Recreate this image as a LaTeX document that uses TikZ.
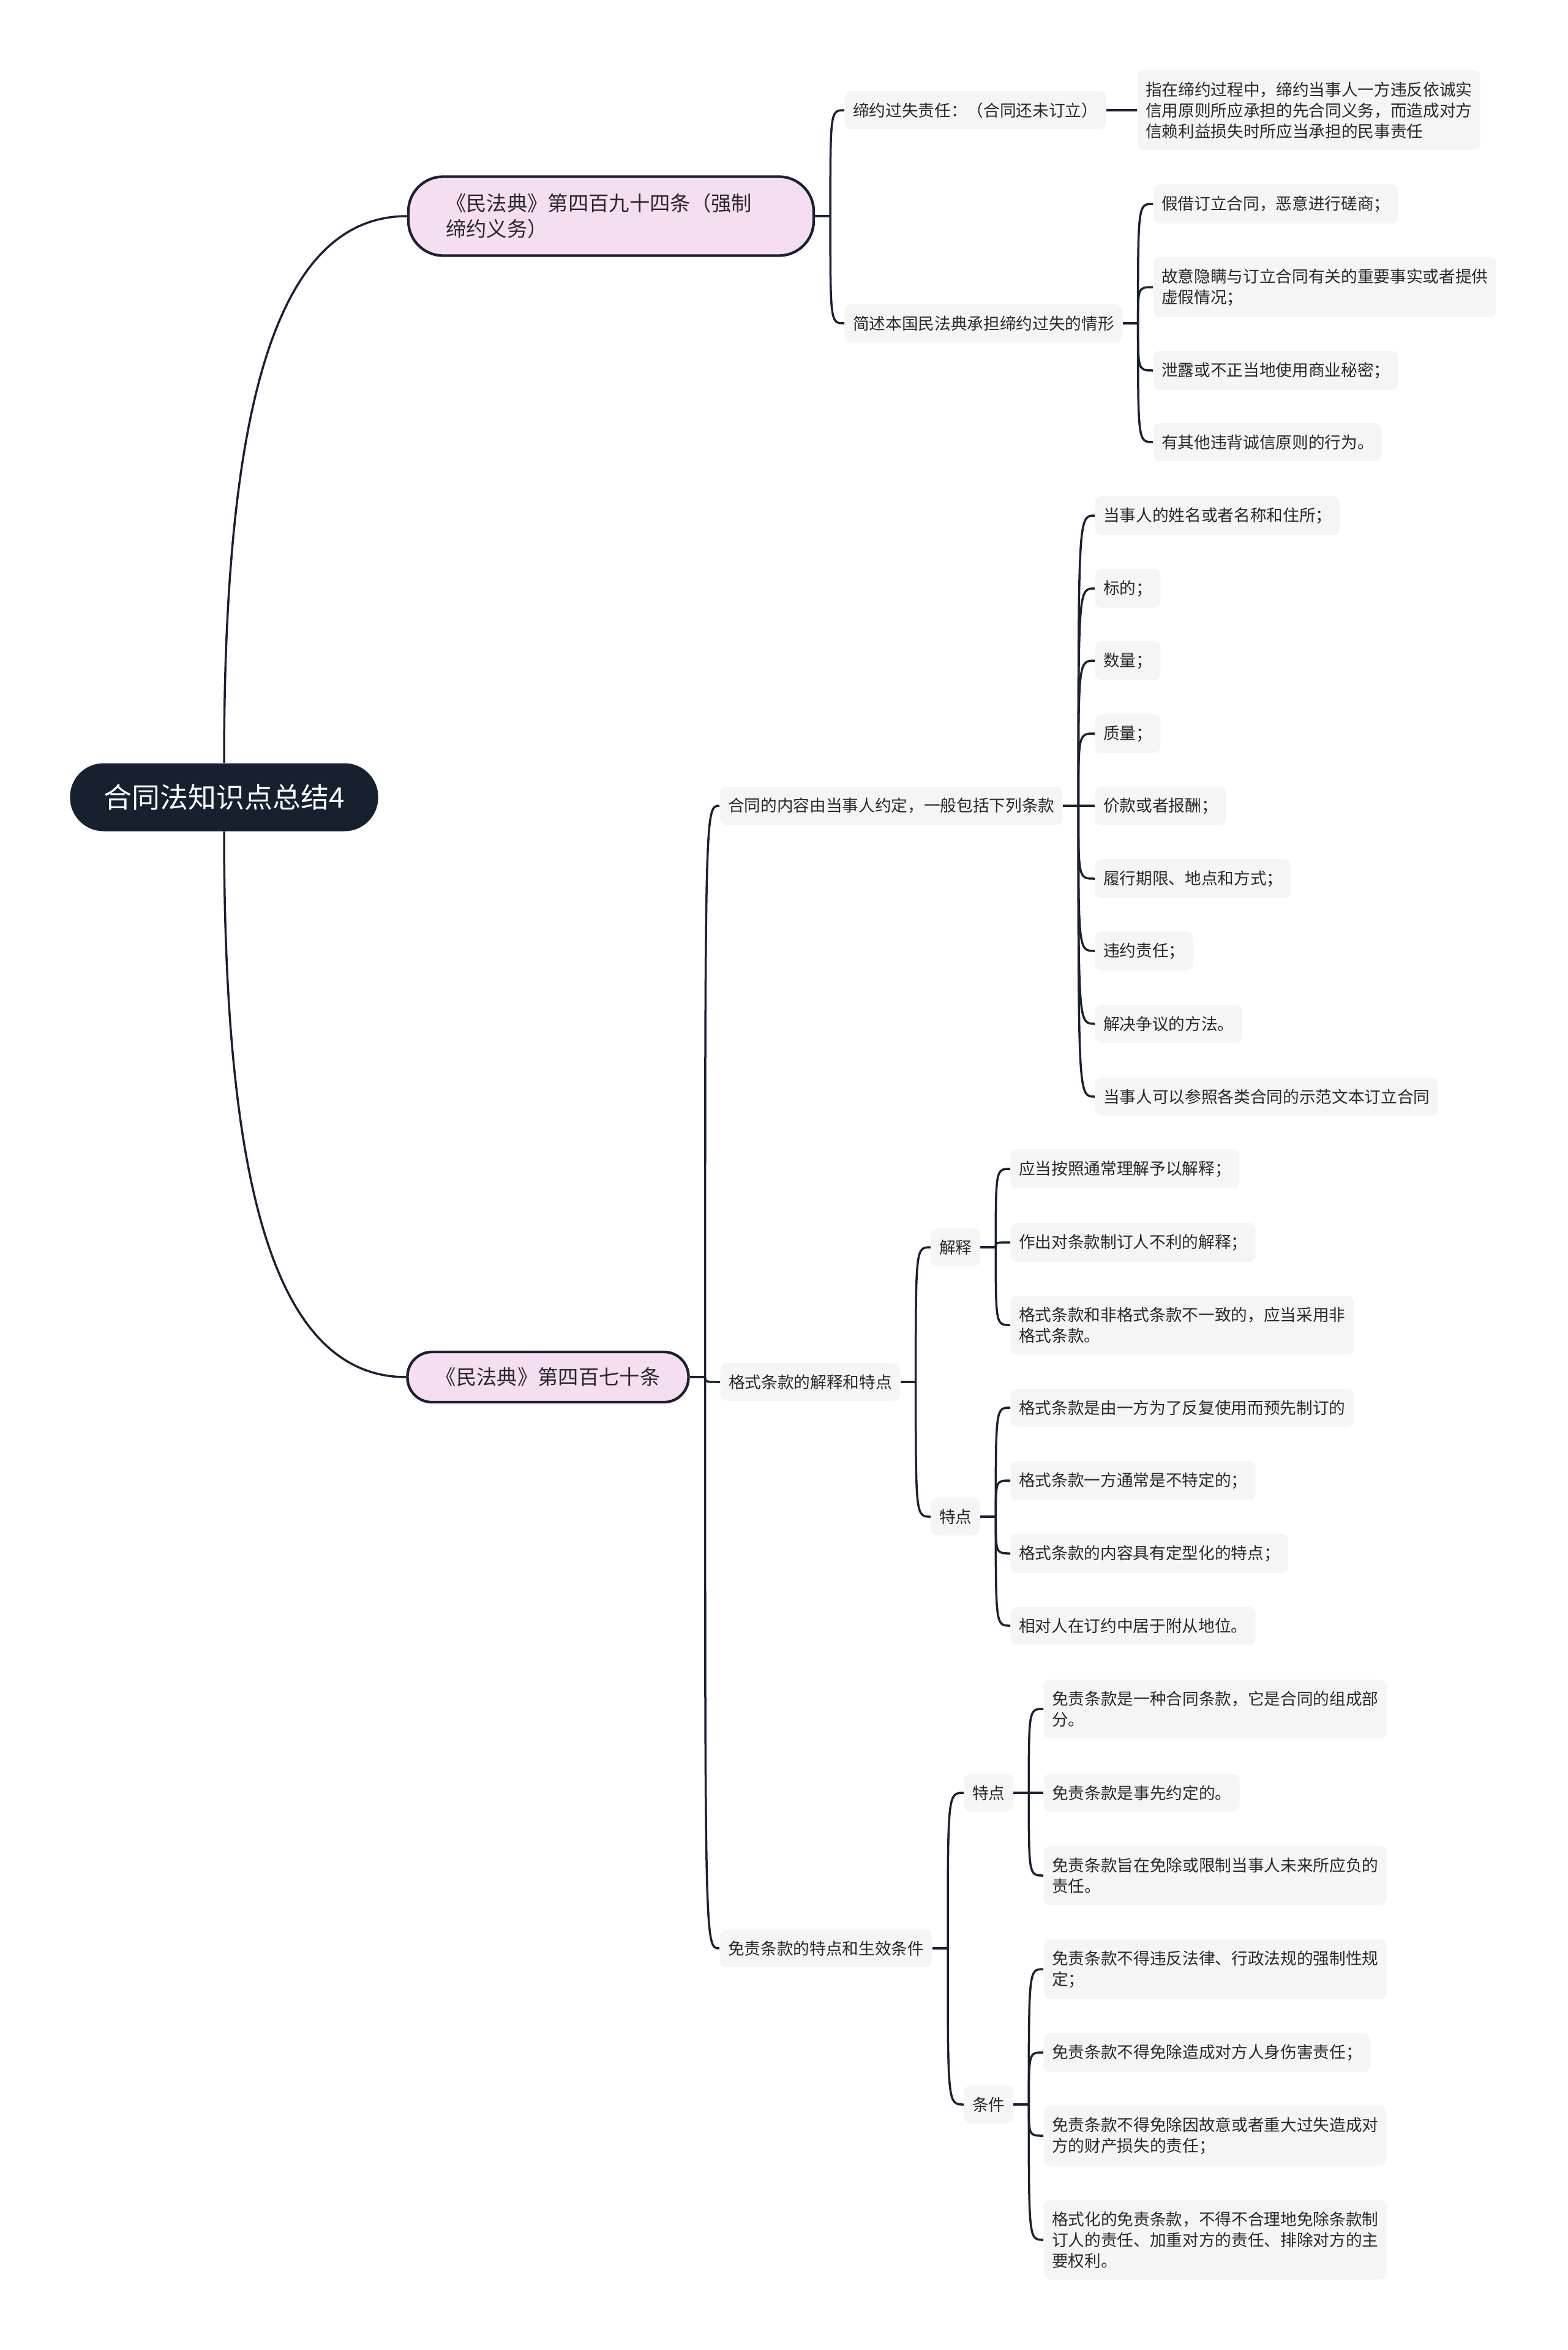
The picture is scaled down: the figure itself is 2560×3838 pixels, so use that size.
\documentclass[tikz,border=0pt]{standalone}
\usepackage{fontspec}
\setmainfont{Noto Sans CJK SC}
\usepackage{xcolor}
\usepackage{tikz}
\usetikzlibrary{calc}
\definecolor{linenavy}{RGB}{27,33,48}
\definecolor{rootnavy}{RGB}{23,32,47}
\definecolor{topicpink}{RGB}{246,222,241}
\definecolor{leafgray}{RGB}{245,245,245}
\definecolor{textdark}{RGB}{40,40,40}
\tikzset{
  link/.style={draw=linenavy,line width=1.05pt},
  rootnode/.style={fill=rootnavy,text=white,rounded corners=16.5pt,minimum width=151pt,
    minimum height=33.3pt,font=\fontsize{13.8}{16}\selectfont},
  topic/.style={draw=linenavy,line width=1.3pt,fill=topicpink,text=textdark,align=left,
    font=\fontsize{10}{12.6}\selectfont},
  leaf/.style={fill=leafgray,text=textdark,rounded corners=3pt,align=left,anchor=west,
    inner xsep=4pt,inner ysep=5.5pt,minimum height=18pt,font=\fontsize{8}{10.2}\selectfont},
}

\begin{document}
\begin{tikzpicture}[x=0.3pt,y=-0.3pt]
  \useasboundingbox (0,0) rectangle (2560,3838);
  \fill[white] (0,0) rectangle (2560,3838);

  % root and main articles
  \node[rootnode] (root) at (366,1302) {合同法知识点总结4};
  \node[topic,rounded corners=17pt,text width=162pt,minimum width=198.6pt,minimum height=38.7pt] (art494) at (998,353)
    {《民法典》第四百九十四条（强制\\缔约义务）};
  \node[topic,rounded corners=12pt,minimum width=137.7pt,minimum height=24.6pt] (art470) at (895,2249)
    {《民法典》第四百七十条};

  % article 494
  \node[leaf] (liab) at (1379,180) {缔约过失责任：（合同还未订立）};
  \node[leaf] (liabdef) at (1857,180) {指在缔约过程中，缔约当事人一方违反依诚实\\信用原则所应承担的先合同义务，而造成对方\\信赖利益损失时所应当承担的民事责任};
  \node[leaf] (cases) at (1379,528) {简述本国民法典承担缔约过失的情形};
  \node[leaf] (case1) at (1883,333) {假借订立合同，恶意进行磋商；};
  \node[leaf] (case2) at (1883,469) {故意隐瞒与订立合同有关的重要事实或者提供\\虚假情况；};
  \node[leaf] (case3) at (1883,605) {泄露或不正当地使用商业秘密；};
  \node[leaf] (case4) at (1883,722) {有其他违背诚信原则的行为。};

  % article 470: terms
  \node[leaf] (terms) at (1175,1316) {合同的内容由当事人约定，一般包括下列条款};
  \node[leaf] (term1) at (1788,842) {当事人的姓名或者名称和住所；};
  \node[leaf] (term2) at (1788,961) {标的；};
  \node[leaf] (term3) at (1788,1079) {数量；};
  \node[leaf] (term4) at (1788,1198) {质量；};
  \node[leaf] (term5) at (1788,1316) {价款或者报酬；};
  \node[leaf] (term6) at (1788,1435) {履行期限、地点和方式；};
  \node[leaf] (term7) at (1788,1553) {违约责任；};
  \node[leaf] (term8) at (1788,1672) {解决争议的方法。};
  \node[leaf] (term9) at (1788,1791) {当事人可以参照各类合同的示范文本订立合同};

  % standard terms
  \node[leaf] (std) at (1176,2257) {格式条款的解释和特点};
  \node[leaf] (interp) at (1520,2037) {解释};
  \node[leaf] (interp1) at (1650,1909) {应当按照通常理解予以解释；};
  \node[leaf] (interp2) at (1650,2029) {作出对条款制订人不利的解释；};
  \node[leaf] (interp3) at (1650,2164) {格式条款和非格式条款不一致的，应当采用非\\格式条款。};
  \node[leaf] (feat) at (1520,2477) {特点};
  \node[leaf] (feat1) at (1650,2299) {格式条款是由一方为了反复使用而预先制订的};
  \node[leaf] (feat2) at (1650,2418) {格式条款一方通常是不特定的；};
  \node[leaf] (feat3) at (1650,2537) {格式条款的内容具有定型化的特点；};
  \node[leaf] (feat4) at (1650,2655) {相对人在订约中居于附从地位。};

  % exemption clauses
  \node[leaf] (exempt) at (1175,3182) {免责条款的特点和生效条件};
  \node[leaf] (exfeat) at (1574,2928) {特点};
  \node[leaf] (exfeat1) at (1704,2791) {免责条款是一种合同条款，它是合同的组成部\\分。};
  \node[leaf] (exfeat2) at (1704,2928) {免责条款是事先约定的。};
  \node[leaf] (exfeat3) at (1704,3063) {免责条款旨在免除或限制当事人未来所应负的\\责任。};
  \node[leaf] (excond) at (1574,3437) {条件};
  \node[leaf] (excond1) at (1704,3216) {免责条款不得违反法律、行政法规的强制性规\\定；};
  \node[leaf] (excond2) at (1704,3352) {免责条款不得免除造成对方人身伤害责任；};
  \node[leaf] (excond3) at (1704,3488) {免责条款不得免除因故意或者重大过失造成对\\方的财产损失的责任；};
  \node[leaf] (excond4) at (1704,3658) {格式化的免责条款，不得不合理地免除条款制\\订人的责任、加重对方的责任、排除对方的主\\要权利。};

  % connectors
  \draw[link] (root.north) .. controls +(0,-546) and +(-225,0) .. (art494.west);
  \draw[link] (root.south) .. controls +(0,546) and +(-225,0) .. (art470.west);

  \draw[link] (art494.east) -- ++(25,0) coordinate (f494);
  \foreach \c in {liab,cases}
    \draw[link] (f494) .. controls (f494 |- \c.west) .. (\c.west);
  \draw[link] (liab.east) -- (liabdef.west);
  \draw[link] (cases.east) -- ++(25,0) coordinate (fcases);
  \foreach \c in {case1,case2,case3,case4}
    \draw[link] (fcases) .. controls (fcases |- \c.west) .. (\c.west);

  \draw[link] (art470.east) -- ++(25,0) coordinate (f470);
  \foreach \c in {terms,std,exempt}
    \draw[link] (f470) .. controls (f470 |- \c.west) .. (\c.west);
  \draw[link] (terms.east) -- ++(25,0) coordinate (fterms);
  \foreach \c in {term1,term2,term3,term4,term5,term6,term7,term8,term9}
    \draw[link] (fterms) .. controls (fterms |- \c.west) .. (\c.west);

  \draw[link] (std.east) -- ++(25,0) coordinate (fstd);
  \foreach \c in {interp,feat}
    \draw[link] (fstd) .. controls (fstd |- \c.west) .. (\c.west);
  \draw[link] (interp.east) -- ++(25,0) coordinate (finterp);
  \foreach \c in {interp1,interp2,interp3}
    \draw[link] (finterp) .. controls (finterp |- \c.west) .. (\c.west);
  \draw[link] (feat.east) -- ++(25,0) coordinate (ffeat);
  \foreach \c in {feat1,feat2,feat3,feat4}
    \draw[link] (ffeat) .. controls (ffeat |- \c.west) .. (\c.west);

  \draw[link] (exempt.east) -- ++(25,0) coordinate (fexempt);
  \foreach \c in {exfeat,excond}
    \draw[link] (fexempt) .. controls (fexempt |- \c.west) .. (\c.west);
  \draw[link] (exfeat.east) -- ++(25,0) coordinate (fexfeat);
  \foreach \c in {exfeat1,exfeat2,exfeat3}
    \draw[link] (fexfeat) .. controls (fexfeat |- \c.west) .. (\c.west);
  \draw[link] (excond.east) -- ++(25,0) coordinate (fexcond);
  \foreach \c in {excond1,excond2,excond3,excond4}
    \draw[link] (fexcond) .. controls (fexcond |- \c.west) .. (\c.west);
\end{tikzpicture}
\end{document}
